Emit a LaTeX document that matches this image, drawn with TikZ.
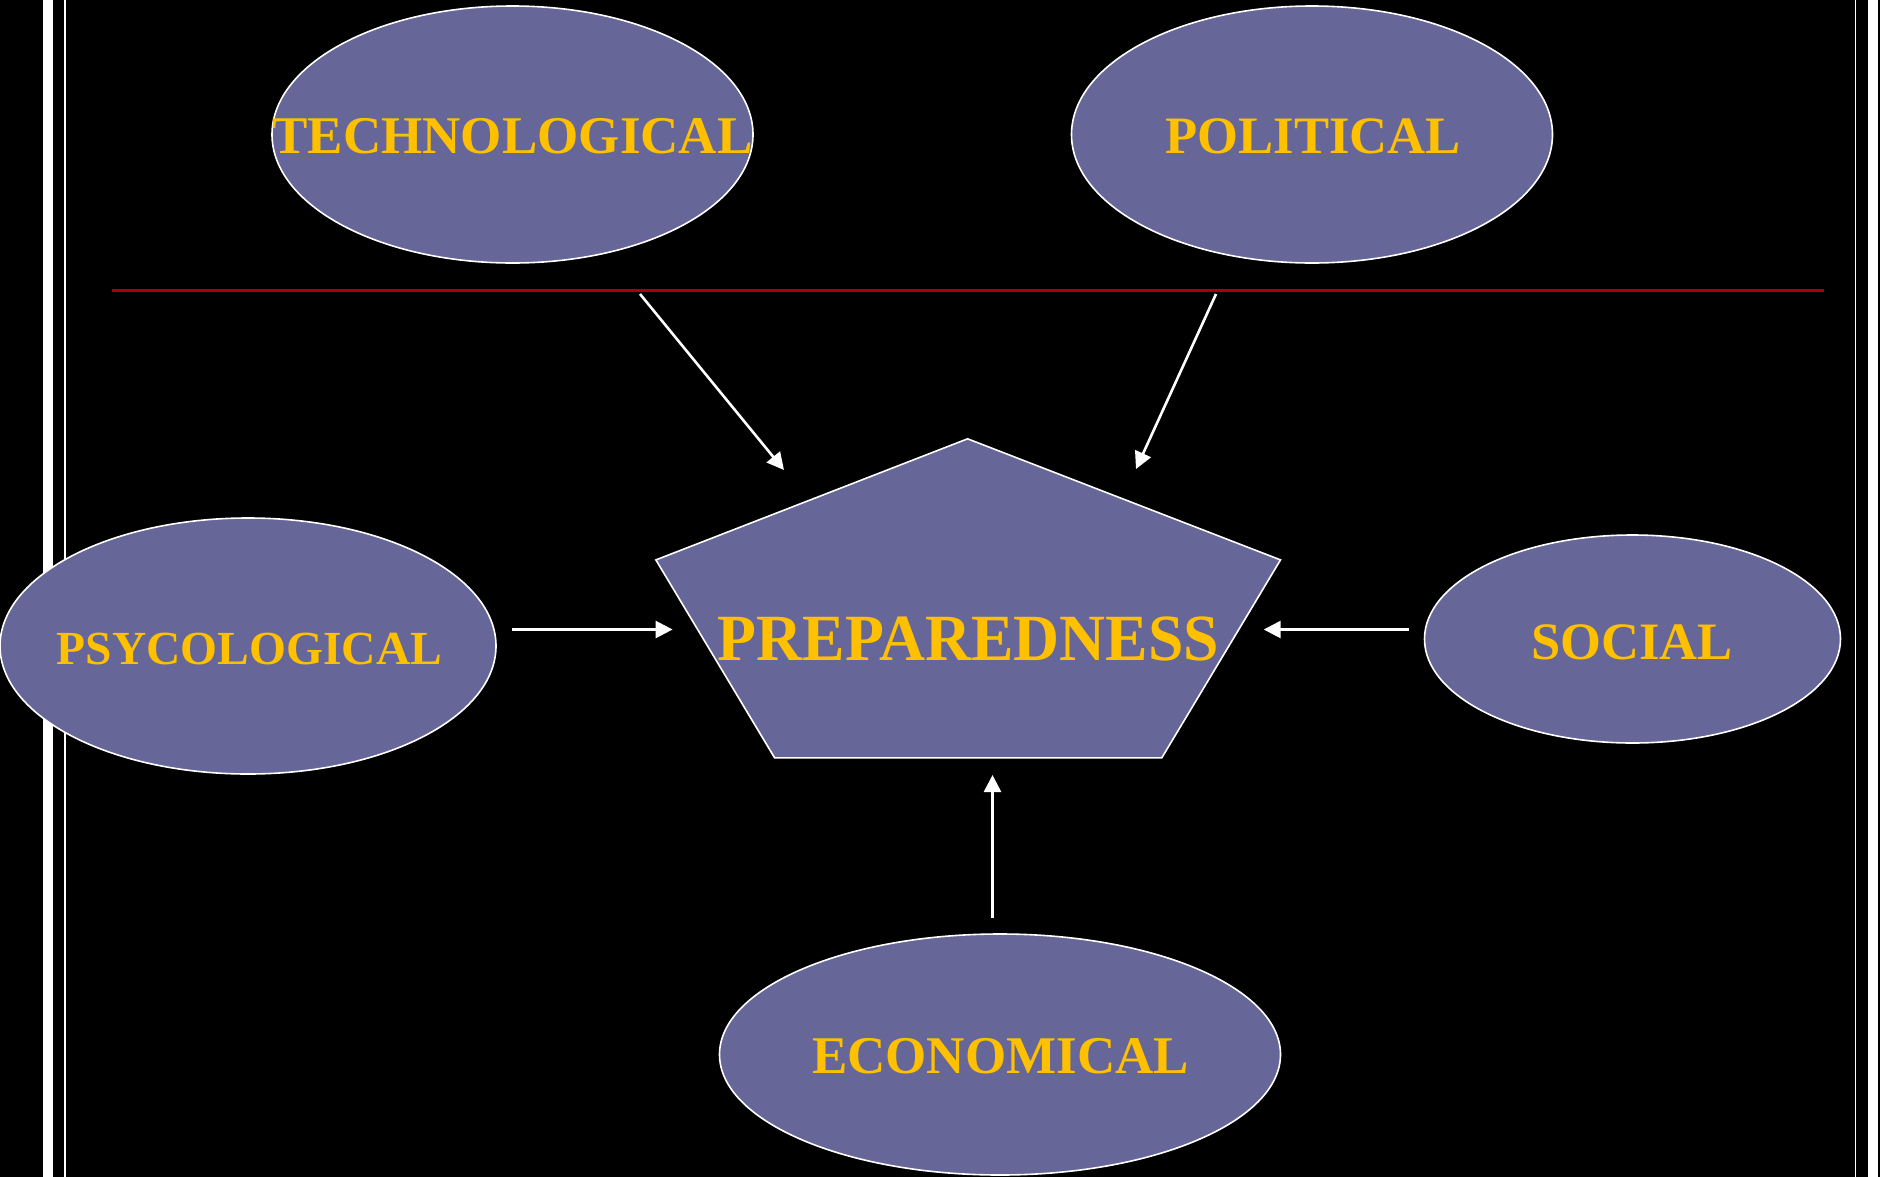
\documentclass[tikz,border=0pt]{standalone}
\usepackage{fontspec}
\setmainfont{Liberation Serif}
\usetikzlibrary{shapes.geometric,arrows.meta}
\definecolor{slate}{RGB}{102,102,153}
\definecolor{gold}{RGB}{255,192,0}
\definecolor{rulered}{RGB}{170,0,0}
\begin{document}
\begin{tikzpicture}[x=1pt,y=-1pt,
  oval/.style={ellipse, draw=white, line width=1.6pt, fill=slate, inner sep=0pt},
  face/.style={draw=white, line width=1.6pt, fill=slate, line join=miter},
  lbl/.style={text=gold, font=\bfseries\fontsize{#1}{#1}\selectfont, inner sep=0pt, anchor=base},
  link/.style={draw=white, line width=2.6pt, -{Triangle[length=17pt,width=17pt]}},
]
% background
\useasboundingbox (0,0) rectangle (1880,1176);
\fill[black] (-4,-4) rectangle (1884,1180);

% frame bars
\fill[white] (43,-4) rectangle (53,1180);
\fill[white] (64,-4) rectangle (66,1180);
\fill[white] (1854.5,-4) rectangle (1856,1180);
\fill[white] (1868,-4) rectangle (1878,1180);

% divider rule
\coordinate (ruleL) at (112,290);
\coordinate (ruleR) at (1824,290);
\draw[rulered, line width=3pt] (ruleL) -- (ruleR);

% factor ovals
\node[oval, minimum width=481pt, minimum height=257pt] (tech) at (512.5,134.5) {};
\node[oval, minimum width=481pt, minimum height=257pt] (pol) at (1312,134.5) {};
\node[oval, minimum width=496pt, minimum height=256pt] (psy) at (248,646) {};
\node[oval, minimum width=416pt, minimum height=208pt] (soc) at (1632.5,639) {};
\node[oval, minimum width=561pt, minimum height=241pt] (eco) at (1000,1054.5) {};

% central pentagon
\coordinate (pT) at (967.6,438.8);
\coordinate (pR) at (1280.5,559.9);
\coordinate (pBR) at (1161.8,757.8);
\coordinate (pBL) at (774.6,757.8);
\coordinate (pL) at (655.9,559.9);
\draw[face] (pT) -- (pR) -- (pBR) -- (pBL) -- (pL) -- cycle;

% labels
\node[lbl=53] (techtxt) at (512.5,153.3) {TECHNOLOGICAL};
\node[lbl=52.6] (poltxt) at (1313,153.3) {POLITICAL};
\node[lbl=47.5] (psytxt) at (249.5,664) {PSYCOLOGICAL};
\node[lbl=52.6] (soctxt) at (1632,659.5) {SOCIAL};
\node[lbl=53] (ecotxt) at (1000.5,1073) {ECONOMICAL};
\node[lbl=66, xscale=0.965] (prep) at (968.5,660) {PREPAREDNESS};

% connector ends
\coordinate (techA) at (640,294);
\coordinate (techB) at (784,470);
\coordinate (polA) at (1216,294);
\coordinate (polB) at (1136,469);
\coordinate (psyA) at (512,629.5);
\coordinate (psyB) at (672.6,629.5);
\coordinate (socA) at (1409,629.5);
\coordinate (socB) at (1263.7,629.5);
\coordinate (ecoA) at (992.5,918);
\coordinate (ecoB) at (992.5,775);

% influences on preparedness
\draw[link] (techA) -- (techB);
\draw[link] (polA) -- (polB);
\draw[link] (psyA) -- (psyB);
\draw[link] (socA) -- (socB);
\draw[link] (ecoA) -- (ecoB);
\end{tikzpicture}
\end{document}
